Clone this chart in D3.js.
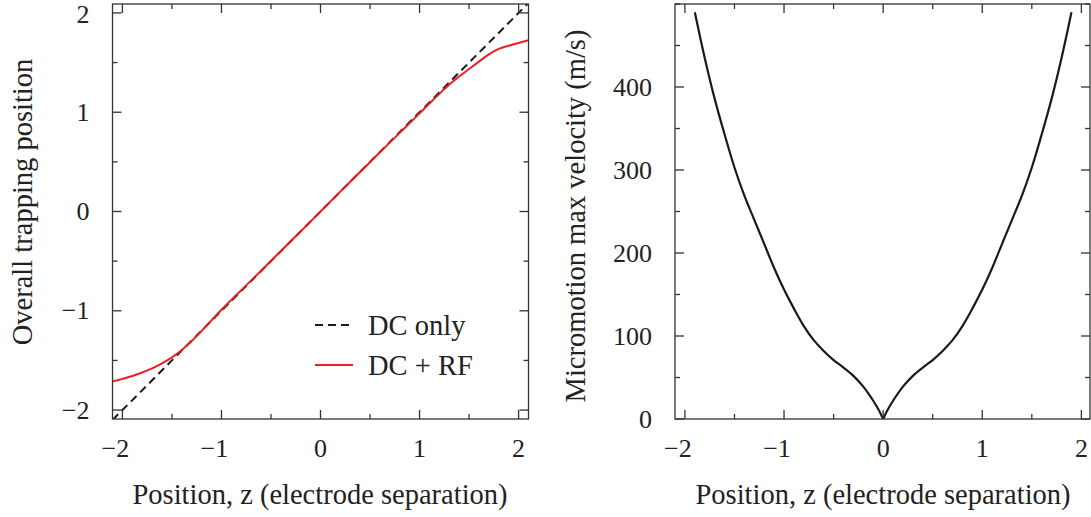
<!DOCTYPE html>
<html>
<head>
<meta charset="utf-8">
<script src="https://cdn.jsdelivr.net/npm/d3@7"></script>
<style>
  html, body { margin: 0; padding: 0; background: #fff; }
  svg text { font-family: "Liberation Serif", "Times New Roman", serif; fill: #222; }
</style>
</head>
<body>
<svg id="chart" width="1091" height="517"></svg>
<script>
// Left panel: trapping position vs. position
const dcZ = [-2.1, 2.1];
const dcPos = [-2.1, 2.1];
const rfZ = [-2.1, -2.0, -1.9, -1.8, -1.7, -1.6, -1.5, -1.4, -1.3, -1.2, -1.1, -1.0, -0.9, -0.8, -0.6, -0.4, -0.2, 0,
             0.2, 0.4, 0.6, 0.8, 0.9, 1.0, 1.1, 1.2, 1.3, 1.4, 1.5, 1.6, 1.7, 1.75, 1.8, 1.9, 2.0, 2.1];
const rfPos = [-1.713, -1.686, -1.657, -1.622, -1.58, -1.53, -1.47, -1.395, -1.305, -1.202, -1.096, -0.99, -0.89, -0.792, -0.596, -0.398, -0.2, 0,
               0.2, 0.398, 0.596, 0.792, 0.89, 0.988, 1.088, 1.185, 1.278, 1.36, 1.435, 1.51, 1.582, 1.613, 1.638, 1.67, 1.698, 1.724];

// Right panel: micromotion max velocity vs. position
const velZ = [-1.9, -1.8, -1.7, -1.6, -1.5, -1.4, -1.3, -1.2, -1.1, -1.0, -0.9, -0.8, -0.7, -0.6, -0.5, -0.4, -0.3, -0.2, -0.1, -0.05, 0,
              0.05, 0.1, 0.2, 0.3, 0.4, 0.5, 0.6, 0.7, 0.8, 0.9, 1.0, 1.1, 1.2, 1.3, 1.4, 1.5, 1.6, 1.7, 1.8, 1.9];
const vel = [490, 435, 386, 343, 303, 269, 240, 211, 182, 156, 133, 112, 95, 82, 71, 62, 52, 39, 22, 12, 0,
             12, 22, 39, 52, 62, 71, 82, 95, 112, 133, 156, 182, 211, 240, 269, 303, 343, 386, 435, 490];

const leftXTicks = [-2, -1, 0, 1, 2];
const leftYTicks = [-2, -1, 0, 1, 2];
const rightXTicks = [-2, -1, 0, 1, 2];
const rightYTicks = [0, 100, 200, 300, 400];

const svg = d3.select("#chart");
const frameColor = "#333";
const tickFont = 26;
const labelFont = 28.5;

function drawFrame(g, x, y, xMajor, yMajor, xMinorStep, yMinorStep, fmtY) {
  const [x0, x1] = x.range();
  const [y0, y1] = y.range(); // y0 bottom, y1 top
  const xd = x.domain(), yd = y.domain();
  const xMinor = d3.range(Math.ceil(xd[0] / xMinorStep) * xMinorStep, xd[1] + 1e-9, xMinorStep)
    .map(v => +v.toFixed(6));
  const yMinor = d3.range(Math.ceil(yd[0] / yMinorStep) * yMinorStep, yd[1] + 1e-9, yMinorStep)
    .map(v => +v.toFixed(6));
  const isMajor = (arr, v) => arr.some(m => Math.abs(m - v) < 1e-6);

  const ticks = g.append("g").attr("stroke", frameColor).attr("stroke-width", 1.3);
  xMinor.forEach(v => {
    const len = isMajor(xMajor, v) ? 9 : 5;
    const px = x(v);
    ticks.append("line").attr("x1", px).attr("x2", px).attr("y1", y0).attr("y2", y0 - len);
    ticks.append("line").attr("x1", px).attr("x2", px).attr("y1", y1).attr("y2", y1 + len);
  });
  yMinor.forEach(v => {
    const len = isMajor(yMajor, v) ? 9 : 5;
    const py = y(v);
    ticks.append("line").attr("y1", py).attr("y2", py).attr("x1", x0).attr("x2", x0 + len);
    ticks.append("line").attr("y1", py).attr("y2", py).attr("x1", x1).attr("x2", x1 - len);
  });
  g.append("rect")
    .attr("x", x0).attr("y", y1).attr("width", x1 - x0).attr("height", y0 - y1)
    .attr("fill", "none").attr("stroke", frameColor).attr("stroke-width", 1.3);

  const fmt = v => (v < 0 ? "\u2212" + Math.abs(v) : String(v));
  g.append("g").selectAll("text").data(xMajor).join("text")
    .attr("x", d => x(d) - (d < 0 ? 7 : 0)).attr("y", 448)
    .attr("text-anchor", "middle").attr("dominant-baseline", "central")
    .attr("font-size", tickFont).text(fmt);
  g.append("g").selectAll("text").data(yMajor).join("text")
    .attr("x", x0 - 23).attr("y", d => Math.max(y(d), 14))
    .attr("text-anchor", "end").attr("dominant-baseline", "central")
    .attr("font-size", tickFont).text(fmtY || fmt);
}

// ---------- Left panel ----------
const xL = d3.scaleLinear().domain([-2.1, 2.1]).range([112.5, 528.5]);
const yL = d3.scaleLinear().domain([-2.09, 2.09]).range([419, 4]);
const gL = svg.append("g");

svg.append("defs").append("clipPath").attr("id", "clipL")
  .append("rect").attr("x", 112.5).attr("y", 4).attr("width", 416).attr("height", 415);

const plotL = gL.append("g").attr("clip-path", "url(#clipL)");
plotL.append("path")
  .datum(d3.zip(dcZ, dcPos))
  .attr("d", d3.line().x(d => xL(d[0])).y(d => yL(d[1])))
  .attr("fill", "none").attr("stroke", "#1a1a1a").attr("stroke-width", 2)
  .attr("stroke-dasharray", "8,5");
plotL.append("path")
  .datum(d3.zip(rfZ, rfPos))
  .attr("d", d3.line().x(d => xL(d[0])).y(d => yL(d[1])).curve(d3.curveCatmullRom.alpha(0.5)))
  .attr("fill", "none").attr("stroke", "#ee1c24").attr("stroke-width", 2);

drawFrame(gL, xL, yL, leftXTicks, leftYTicks, 0.5, 0.5);

// legend
const legend = gL.append("g");
legend.append("line").attr("x1", 315).attr("x2", 353).attr("y1", 325).attr("y2", 325)
  .attr("stroke", "#1a1a1a").attr("stroke-width", 2).attr("stroke-dasharray", "8,5");
legend.append("text").attr("x", 368).attr("y", 325).attr("dominant-baseline", "central")
  .attr("font-size", labelFont).text("DC only");
legend.append("line").attr("x1", 315).attr("x2", 353).attr("y1", 365).attr("y2", 365)
  .attr("stroke", "#ee1c24").attr("stroke-width", 2);
legend.append("text").attr("x", 368).attr("y", 365).attr("dominant-baseline", "central")
  .attr("font-size", labelFont).text("DC + RF");

gL.append("text")
  .attr("x", 320).attr("y", 494).attr("text-anchor", "middle").attr("dominant-baseline", "central")
  .attr("font-size", labelFont).text("Position, z (electrode separation)");
gL.append("text")
  .attr("transform", "translate(22,202) rotate(-90)")
  .attr("text-anchor", "middle").attr("dominant-baseline", "central")
  .attr("font-size", labelFont).text("Overall trapping position");

// ---------- Right panel ----------
const xR = d3.scaleLinear().domain([-2.1, 2.087]).range([675, 1090]);
const yR = d3.scaleLinear().domain([0, 500]).range([419, 4]);
const gR = svg.append("g");

const lineR = d3.line().x(d => xR(d[0])).y(d => yR(d[1])).curve(d3.curveCatmullRom.alpha(0.5));
const velPts = d3.zip(velZ, vel);
// cusp at z = 0: draw each branch separately
const leftBranch = velPts.filter(d => d[0] <= 0);
const rightBranch = velPts.filter(d => d[0] >= 0);
[leftBranch, rightBranch].forEach(pts => {
  gR.append("path").datum(pts).attr("d", lineR)
    .attr("fill", "none").attr("stroke", "#1a1a1a").attr("stroke-width", 2.2)
    .attr("stroke-linejoin", "round");
});

drawFrame(gR, xR, yR, rightXTicks, rightYTicks, 0.5, 50, d => String(d));

gR.append("text")
  .attr("x", 883).attr("y", 494).attr("text-anchor", "middle").attr("dominant-baseline", "central")
  .attr("font-size", labelFont).text("Position, z (electrode separation)");
gR.append("text")
  .attr("transform", "translate(575,216) rotate(-90)")
  .attr("text-anchor", "middle").attr("dominant-baseline", "central")
  .attr("font-size", labelFont).text("Micromotion max velocity (m/s)");
</script>
</body>
</html>
